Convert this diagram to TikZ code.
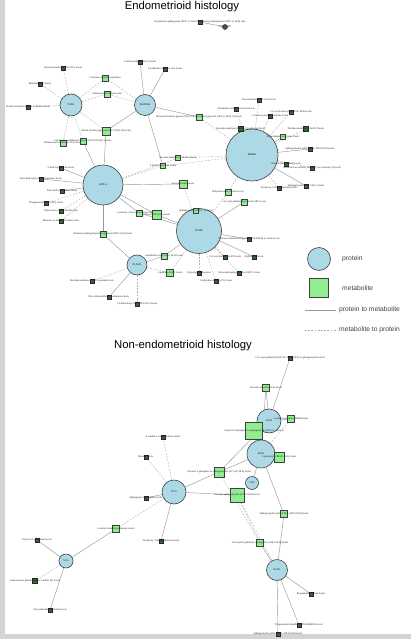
\documentclass[tikz,border=0pt]{standalone}
\usepackage{fontspec}
\setmainfont{Liberation Sans}
\newfontfamily\lblfont{Liberation Serif}
\usetikzlibrary{backgrounds}
\definecolor{protblue}{HTML}{ADD8E6}
\definecolor{metgreen}{HTML}{90EE90}
\definecolor{metdark}{HTML}{2F6B2F}
\newcommand{\tinyl}{\lblfont\fontsize{2.6}{3}\selectfont}
\tikzset{
 prot/.style={circle, draw=black!75, fill=protblue, line width=0.6pt, inner sep=0pt, minimum size=#1, font=\tinyl},
 met/.style={rectangle, draw=black!75, fill=metgreen, line width=0.5pt, inner sep=0pt, minimum size=#1},
 smet/.style={rectangle, draw=black!85, fill=metdark, line width=0.5pt, inner sep=0pt, minimum size=#1},
 lbl/.style={font=\tinyl, inner sep=0pt, text=black!90},
 pm/.style={draw=black!40, line width=0.45pt},
 mp/.style={draw=black!32, line width=0.4pt, dash pattern=on 1.8pt off 1.4pt},
 ttl/.style={font=\fontsize{11.3}{13}\selectfont},
 legtext/.style={font=\fontsize{6.7}{8}\selectfont, anchor=west, text=black!75, inner sep=0pt},
}
\begin{document}
\begin{tikzpicture}[x=1pt,y=-1pt]
\useasboundingbox (0,0) rectangle (411,639);
\fill[black!17] (0,0) rectangle (5,639);
\fill[black!17] (0,634) rectangle (411,639);

% titles
\node[ttl] (t1) at (182,7) {Endometrioid histology};
\node[ttl] (t2) at (183,346) {Non-endometrioid histology};

% ---------------- top panel ----------------
\node[smet=4pt, label={[lbl]center:N-palmitoyl-sphingosine (d18:1 to 16:0) to N-stearoyl-sphingosine (d18:1 to 18:0) ratio}] (t0) at (200,22) {};
\node[prot=5pt, fill=black!70, label={[lbl]center:TNF\hspace{3pt}AIP}] (t0p) at (225,27) {};

\node[prot=22pt] (A) at (71,105) {TGFA};
\node[prot=21pt] (B) at (145,105) {MAP2K6};
\node[prot=52pt] (C) at (252,155) {ERBB2};
\node[prot=40pt] (D) at (103,185) {KITLG};
\node[prot=45pt] (E) at (199,231) {BCHE};
\node[prot=20pt] (F) at (137,265) {PLAUR};

\node[smet=4pt, label={[lbl]center:Stearoylcarnitine (C18:1-DC) levels}] (a1) at (63,68) {};
\node[smet=4pt, label={[lbl]center:Bilirubin (Z,Z) levels}] (a2) at (40,84) {};
\node[smet=4pt, label={[lbl]center:Octadecanedioylcarnitine (C18-DC) levels}] (a3) at (28,107) {};
\node[met=6pt, label={[lbl]center:Cortisone to cortisol (plasma)}] (a4) at (105,78) {};
\node[met=6pt, label={[lbl]center:Cholesterol to linoleate ratio}] (a5) at (107,94) {};
\node[smet=4pt, label={[lbl]center:1-carboxyethylvaline (1) levels}] (a6) at (140,62) {};
\node[smet=4pt, label={[lbl]center:2,4-dihydroxybutyric acid levels}] (a7) at (165,69) {};
\node[met=6pt, label={[lbl]center:Benzoyl-linoleoyl-glycerol (18:1/18:2) to oleoyl-glycerol (18:2 to 20:4) [1] levels}] (a8) at (199,117) {};
\node[met=8pt, label={[lbl]center:Oleoyl-linoleoyl-glycerol (18:1/18:2) [2] levels}] (a9) at (106,131) {};
\node[met=6pt, label={[lbl]center:Palmitoleoylcarnitine (C16:1) levels}] (a10) at (63,143) {};
\node[met=6pt, label={[lbl]center:Linoleoyl-arachidonoyl-glycerol (18:2/20:4) [1] levels}] (a11) at (83,141) {};

\node[smet=4pt, label={[lbl]center:Docosatrienoate (22:3n3) levels}] (c1) at (259,100) {};
\node[smet=4pt, label={[lbl]center:Tetrahydrocortisol to cortisol levels}] (c2) at (236,109) {};
\node[smet=4pt, label={[lbl]center:1-(1-enyl-stearoyl)-GPE (P-18:0) levels}] (c3) at (291,112) {};
\node[smet=4pt, label={[lbl]center:5'-hydroxyoctanoylcarnitine levels}] (c4) at (270,116) {};
\node[smet=5pt, label={[lbl]center:Hexadecanedioate (C16-DC) to glycerol levels}] (c5) at (241,129) {};
\node[smet=5pt, label={[lbl]center:Tetradecanedioate (C14-DC) levels}] (c6) at (306,129) {};
\node[met=5pt, label={[lbl]center:Ethanolamine to glycine levels}] (c7) at (283,137) {};
\node[smet=4pt, label={[lbl]center:Sphingomyelin (d18:1/18:1, d18:2/18:0) levels}] (c8) at (310,149) {};
\node[smet=4pt, label={[lbl]center:Stearidonate (18:4n3) levels}] (c9) at (286,164) {};
\node[smet=4pt, label={[lbl]center:Androsterone sulfate (16:0/18:1) to cortisone (1) levels}] (c10) at (312,168) {};
\node[smet=4pt, label={[lbl]center:3-hydroxy-2-ethylpropionate levels}] (c11) at (279,188) {};
\node[smet=4pt, label={[lbl]center:Sphingomyelin (d18:1/24:1) levels}] (c12) at (306,186) {};
\node[met=6pt, label={[lbl]center:Dihydroorotate to urate levels}] (c13) at (228,192) {};
\node[met=6pt, label={[lbl]center:1-(1-enyl-palmitoyl)-2-oleoyl-GPC levels}] (c14) at (244,202) {};

\node[smet=4pt, label={[lbl]center:2-hydroxyglutarate levels}] (d1) at (61,168) {};
\node[smet=4pt, label={[lbl]center:Beta-hydroxyisovaleroylcarnitine levels}] (d2) at (41,179) {};
\node[smet=4pt, label={[lbl]center:Taurocholenate sulfate levels}] (d3) at (62,191) {};
\node[smet=4pt, label={[lbl]center:Thioguanosine (C8:1-DC) levels}] (d4) at (46,203) {};
\node[smet=4pt, label={[lbl]center:Thyroxine to T3 hydroxide ratio}] (d5) at (61,211) {};
\node[smet=4pt, label={[lbl]center:Mannose to mannitol/sorbitol ratio}] (d6) at (61,221) {};
\node[met=5pt, label={[lbl]center:Hexadecanedioate (C16-DC) levels}] (d7) at (178,158) {};
\node[met=5pt, label={[lbl]center:3-hydroxybutyrate levels}] (d8) at (163,166) {};
\node[met=8pt, label={[lbl]center:Acetylcarnitine levels}] (d9) at (183,184) {};
\node[met=6pt, label={[lbl]center:1-stearoyl-2-docosahexaenoyl-GPC levels}] (d10) at (139,213) {};
\node[met=9pt, label={[lbl]center:Oleoyl-GPE (18:1) levels}] (d11) at (157,215) {};
\node[met=5pt, label={[lbl]center:Sphingomyelin (d18:2/...) levels}] (d12) at (196,211) {};

\node[met=6pt, label={[lbl]center:Palmitoyl-sphingomyelin to glycerol (d18:1/16:0) levels}] (e1) at (103,234) {};
\node[met=6pt, label={[lbl]center:Arachidonoyl-glycerol (18:2) levels}] (e2) at (164,256) {};
\node[met=7pt, label={[lbl]center:1-palmitoyl-GPC levels}] (e3) at (170,273) {};
\node[smet=4pt, label={[lbl]center:Glycerophosphoserine}] (e4) at (199,273) {};
\node[smet=4pt, label={[lbl]center:Hexadecanedioate (C16) to gamma levels}] (e5) at (92,281) {};
\node[smet=4pt, label={[lbl]center:N6-carbamoylthreonyladenosine levels}] (e6) at (109,297) {};
\node[smet=4pt, label={[lbl]center:1,2-dilinoleoyl-GPC (18:2/18:2) levels}] (e7) at (137,304) {};
\node[smet=4pt, label={[lbl]center:Stearoyl-arachidonoyl-glycerol (18:0/20:4) to oleate levels}] (e8) at (249,239) {};
\node[smet=4pt, label={[lbl]center:1-(1-enyl-stearoyl)-GPE levels}] (e9) at (225,257) {};
\node[smet=4pt, label={[lbl]center:Erythronate levels}] (e10) at (254,257) {};
\node[smet=4pt, label={[lbl]center:Glycerophosphorylcholine (GPC) levels}] (e11) at (239,273) {};
\node[smet=4pt, label={[lbl]center:3-dehydrocarnitine (C5) levels}] (e12) at (216,281) {};

% ---------------- legend ----------------
\node[prot=23pt] (lp) at (319,259) {};
\node[legtext] (lpt) at (342,259) {protein};
\node[met=19pt] (lm) at (319,288) {};
\node[legtext] (lmt) at (342,288) {metabolite};
\coordinate (ls1) at (305,310);
\coordinate (ls2) at (336,310);
\coordinate (ld1) at (305,330);
\coordinate (ld2) at (336,330);
\node[legtext] (lst) at (339,310) {protein to metabolite};
\node[legtext] (ldt) at (339,330) {metabolite to protein};

% ---------------- bottom panel ----------------
\node[prot=24pt] (G) at (269,421) {ACE2};
\node[prot=28pt] (H) at (261,454) {SELE};
\node[prot=13pt] (I) at (252,483) {CD6};
\node[prot=24pt] (J) at (174,492) {LY75};
\node[prot=14pt] (K) at (66,561) {VCL};
\node[prot=21pt] (L) at (277,570) {IL1R1};

\node[smet=4pt, label={[lbl]center:1-(1-enyl-palmitoyl)-GPC (P-16:0)/(16:0) to sphingomyelin levels}] (b1) at (290,358) {};
\node[met=7pt, label={[lbl]center:Isovalerylcarnitine (C5) levels}] (b2) at (266,388) {};
\node[met=7pt, label={[lbl]center:3-methoxytyramine (MID) levels}] (b3) at (291,419) {};
\node[met=17pt, label={[lbl]center:Glycerol 3-phosphate to sphingomyelin (d18:1/...) levels}] (b4) at (254,431) {};
\node[met=10pt, label={[lbl]center:3-palmitoyl-GPE (P-16:0) levels}] (b5) at (279,457) {};
\node[met=10pt, label={[lbl]center:Glycerol 3-phosphate to sphingomyelin (N-?) (P-16:0) levels}] (b6) at (219,472) {};
\node[met=14pt, label={[lbl]center:Stearoyl sphingomyelin (d18:1/18:0) levels}] (b7) at (237,495) {};
\node[met=7pt, label={[lbl]center:Sphingomyelin (d18:1/20:1, d18:2/20:0) levels}] (b8) at (284,514) {};
\node[met=7pt, label={[lbl]center:Lactosyl-N-palmitoyl-sphingosine (d18:1/16:0) levels}] (b9) at (260,543) {};
\node[smet=4pt, label={[lbl]center:Pregnenediol sulfate levels}] (b10) at (311,594) {};
\node[smet=4pt, label={[lbl]center:Pregnenediol disulfate (C21H34O8S2) levels}] (b11) at (299,625) {};
\node[smet=4pt, label={[lbl]center:Sphingomyelin (d18:1/24:1, d18:2/24:0) levels}] (b12) at (278,634) {};
\node[smet=4pt, label={[lbl]center:4-methyl-2-oxopentanoate levels}] (b13) at (163,437) {};
\node[smet=4pt, label={[lbl]center:Betaine levels}] (b14) at (146,457) {};
\node[smet=4pt, label={[lbl]center:Sphingosine 1-phosphate levels}] (b15) at (146,498) {};
\node[met=7pt, label={[lbl]center:4-acetyl-4-methylpentanoate levels}] (b16) at (116,529) {};
\node[smet=4pt, label={[lbl]center:3-hydroxy-3-methylglutarate levels}] (b17) at (161,541) {};
\node[smet=4pt, label={[lbl]center:Glycerol 3-phosphate levels}] (b18) at (37,540) {};
\node[smet=5pt, label={[lbl]center:Androsterone glucuronide to 3-sulfate (2) levels}] (b19) at (35,581) {};
\node[smet=4pt, label={[lbl]center:Glycochenodeoxycholate levels}] (b20) at (50,610) {};

% ---------------- connectors ----------------
\begin{scope}[on background layer]
\draw[pm] (t0) -- (t0p);
\foreach \m in {a1,a2,a3,a4,a5,a9,a10,a11} \draw[mp] (A) -- (\m);
\foreach \m in {a6,a7,a8,a9,d8} \draw[pm] (B) -- (\m);
\foreach \m in {a4,a5} \draw[mp] (B) -- (\m);
\foreach \m in {c1,c2,c3,c4,c5,c6,c9,c10,c11,c13,d7,d8,a8} \draw[mp] (C) -- (\m);
\foreach \m in {c7,c8,c12} \draw[pm] (C) -- (\m);
\foreach \m in {d1,d2,d3,d9,d10,d11,e1,a9,a11} \draw[pm] (D) -- (\m);
\foreach \m in {d4,d5,d6,d7,d8} \draw[mp] (D) -- (\m);
\foreach \m in {c14,e8,e10,d10,d11,e2} \draw[pm] (E) -- (\m);
\foreach \m in {c13,d12,e9,e11,e12,e3,e4,d9} \draw[mp] (E) -- (\m);
\foreach \m in {e1,e2,e6} \draw[pm] (F) -- (\m);
\foreach \m in {e5,e7,e3} \draw[mp] (F) -- (\m);

\draw[pm] (ls1) -- (ls2);
\draw[mp] (ld1) -- (ld2);

\foreach \m in {b1,b2,b3,b4} \draw[pm] (G) -- (\m);
\foreach \m in {b2,b4,b5,b6,b8,I} \draw[pm] (H) -- (\m);
\draw[pm] (G) -- (b6);
\draw[mp] (b3) -- (H);
\foreach \m in {b6,b7,b15,b17} \draw[pm] (J) -- (\m);
\foreach \m in {b13,b14,b16} \draw[mp] (J) -- (\m);
\foreach \m in {b16,b18,b20} \draw[pm] (K) -- (\m);
\draw[mp] (K) -- (b19);
\foreach \m in {b8,b9,b10,b11,b12} \draw[pm] (L) -- (\m);
\draw[mp] (b7) -- (b9);
\draw[mp] (b7) -- (L);
\draw[mp] (b6) -- (b9);
\end{scope}
\end{tikzpicture}
\end{document}
